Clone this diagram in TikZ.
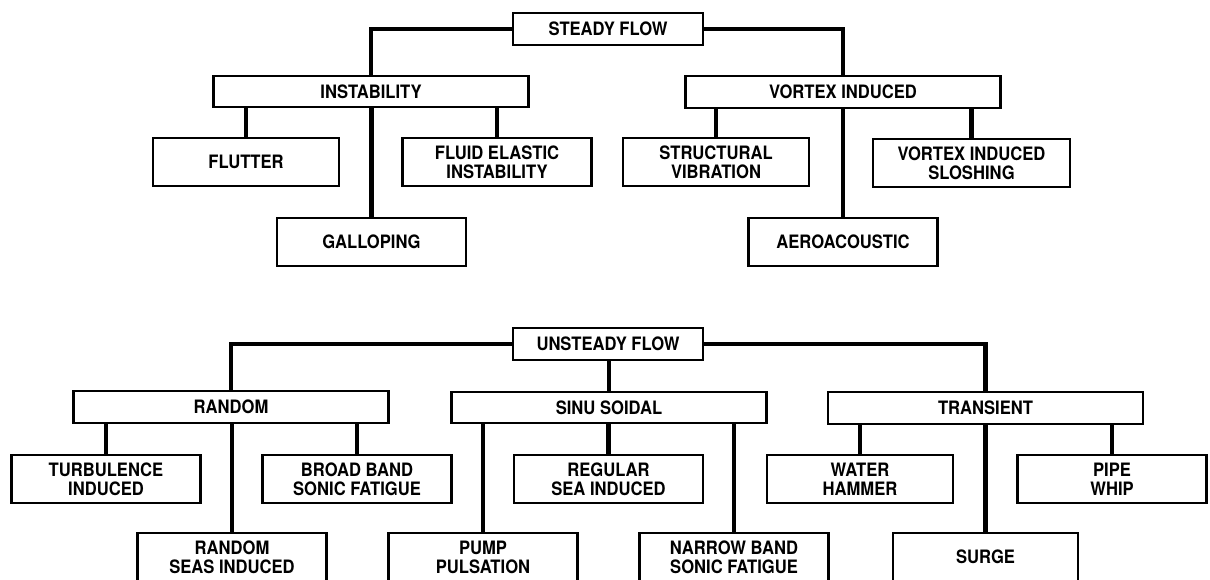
\documentclass[tikz,border=0pt]{standalone}
\usepackage{fontspec}
\setmainfont{TeX Gyre Heros}[FakeStretch=0.9]
\usepackage{tikz}
\usetikzlibrary{positioning,calc}
\tikzset{
  basebox/.style ={draw, line width=1.4pt, align=center, inner sep=0pt,
                   font=\bfseries\fontsize{10.5}{10.8}\selectfont},
  rootbox/.style ={basebox, minimum width=3.8cm, minimum height=0.64cm},
  catbox/.style  ={basebox, minimum width=6.3cm, minimum height=0.63cm},
  leafbox/.style ={basebox, minimum width=#1, minimum height=0.96cm},
  leafbox/.default=3.78cm,
  link/.style    ={line width=2.3pt},
}

\begin{document}
\begin{tikzpicture}[x=0.02cm, y=-0.02cm]
  \clip (0,0) rectangle (1210,579);

  % steady flow branch
  \node[rootbox] (steady) at (608,29)  {STEADY FLOW};
  \node[catbox]  (instab) at (371,91.5) {INSTABILITY};
  \node[catbox]  (vortex) at (843,92)  {VORTEX INDUCED};

  \node[leafbox=3.72cm] (flutter) at (246,162) {FLUTTER};
  \node[leafbox]        (fluid)   at (497,162) {FLUID ELASTIC\\INSTABILITY};
  \node[leafbox]        (gallop)  at (371.5,242) {GALLOPING};
  \node[leafbox=3.72cm] (struct)  at (716,162) {STRUCTURAL\\VIBRATION};
  \node[leafbox=3.94cm] (slosh)   at (971.5,163) {VORTEX INDUCED\\SLOSHING};
  \node[leafbox]        (aero)    at (843,242) {AEROACOUSTIC};

  % unsteady flow branch
  \node[rootbox] (unsteady) at (608,344) {UNSTEADY FLOW};
  \node[catbox]  (random)   at (231,407) {RANDOM};
  \node[catbox]  (sinu)     at (609,407.5) {SINU SOIDAL};
  \node[catbox]  (trans)    at (985.5,408) {TRANSIENT};

  \node[leafbox] (turb)    at (106,479)   {TURBULENCE\\INDUCED};
  \node[leafbox] (broad)   at (357,479)   {BROAD BAND\\SONIC FATIGUE};
  \node[leafbox] (rseas)   at (232,557)   {RANDOM\\SEAS INDUCED};
  \node[leafbox] (regular) at (608.5,479) {REGULAR\\SEA INDUCED};
  \node[leafbox] (pump)    at (483,557)   {PUMP\\PULSATION};
  \node[leafbox] (narrow)  at (734,557)   {NARROW BAND\\SONIC FATIGUE};
  \node[leafbox=3.72cm] (water) at (860,479) {WATER\\HAMMER};
  \node[leafbox] (pipe)    at (1112,479)  {PIPE\\WHIP};
  \node[leafbox=3.7cm] (surge) at (985.5,557) {SURGE};

  \draw[link] (steady.west) -| (instab.north);
  \draw[link] (steady.east) -| (vortex.north);
  \draw[link] (flutter.north |- instab.south) -- (flutter.north);
  \draw[link] (fluid.north   |- instab.south) -- (fluid.north);
  \draw[link] (gallop.north  |- instab.south) -- (gallop.north);
  \draw[link] (struct.north  |- vortex.south) -- (struct.north);
  \draw[link] (slosh.north   |- vortex.south) -- (slosh.north);
  \draw[link] (aero.north    |- vortex.south) -- (aero.north);

  \draw[link] (unsteady.west) -| (random.north);
  \draw[link] (unsteady.east) -| (trans.north);
  \draw[link] (sinu.north |- unsteady.south) -- (sinu.north);
  \draw[link] (turb.north    |- random.south) -- (turb.north);
  \draw[link] (broad.north   |- random.south) -- (broad.north);
  \draw[link] (rseas.north   |- random.south) -- (rseas.north);
  \draw[link] (regular.north |- sinu.south)   -- (regular.north);
  \draw[link] (pump.north    |- sinu.south)   -- (pump.north);
  \draw[link] (narrow.north  |- sinu.south)   -- (narrow.north);
  \draw[link] (water.north   |- trans.south)  -- (water.north);
  \draw[link] (pipe.north    |- trans.south)  -- (pipe.north);
  \draw[link] (surge.north   |- trans.south)  -- (surge.north);
\end{tikzpicture}
\end{document}
